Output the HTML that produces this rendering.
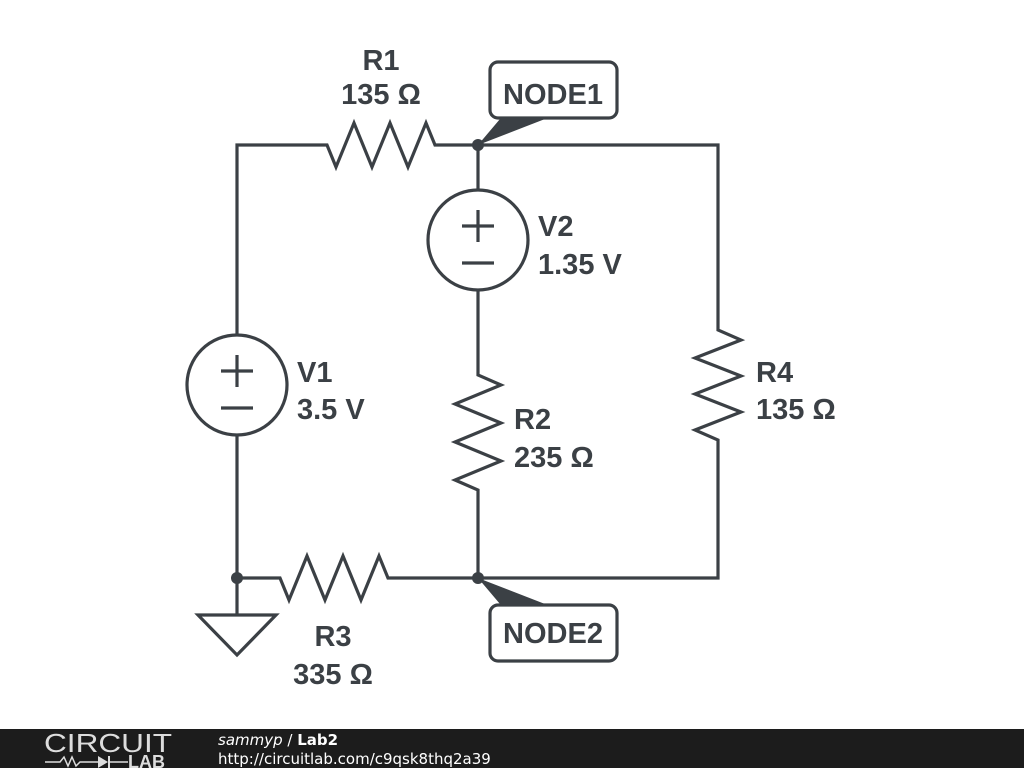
<!DOCTYPE html>
<html><head><style>
html,body{margin:0;padding:0;background:#fff;width:1024px;height:768px;overflow:hidden}
svg{display:block}
.t{font-family:"Liberation Sans",sans-serif;font-weight:bold;font-size:29px;fill:#3b4045}
</style></head><body>
<svg width="1024" height="768" viewBox="0 0 1024 768">
<g stroke="#3b4045" stroke-width="3.2" fill="none" stroke-linejoin="miter">
<polyline points="237,335 237,145 327,145 336,167 354,123 372,167 390,123 408,167 426,123 435,145 718,145 718,330 741,340 695,358 741,376 695,394 741,412 695,430 718,440 718,578 388,578 379,556 361,600 343,556 325,600 307,556 289,600 280,578 237,578 237,435"/>
<circle cx="237" cy="385" r="50"/>
<polyline points="478,145 478,190"/>
<circle cx="478" cy="240" r="50"/>
<polyline points="478,290 478,375 501,385 455,404 501,423 455,442 501,461 455,480 478,490 478,578"/>
<polyline points="237,578 237,615"/>
<polygon points="198,615 276,615 237,655"/>
<line x1="221" y1="371" x2="253" y2="371"/><line x1="237" y1="355" x2="237" y2="387"/>
<line x1="221" y1="408" x2="253" y2="408"/>
<line x1="462" y1="226" x2="494" y2="226"/><line x1="478" y1="210" x2="478" y2="242"/>
<line x1="462" y1="263" x2="494" y2="263"/>
<rect x="490" y="62" width="127" height="56" rx="8" fill="#fff"/>
<rect x="490" y="605" width="127" height="56" rx="8" fill="#fff"/>
</g>
<g fill="#3b4045">
<circle cx="478" cy="145" r="6"/><circle cx="478" cy="578" r="6"/><circle cx="237" cy="578" r="6"/>
<polygon points="478,145 500,119 545,119"/>
<polygon points="478,578 500,604 545,604"/>
</g>
<text class="t" x="381" y="70" text-anchor="middle">R1</text>
<text class="t" x="381" y="104" text-anchor="middle">135 Ω</text>
<text class="t" x="553" y="104" text-anchor="middle">NODE1</text>
<text class="t" x="553" y="643" text-anchor="middle">NODE2</text>
<text class="t" x="538" y="236">V2</text>
<text class="t" x="538" y="274">1.35 V</text>
<text class="t" x="297" y="382">V1</text>
<text class="t" x="297" y="419">3.5 V</text>
<text class="t" x="514" y="429">R2</text>
<text class="t" x="514" y="467">235 Ω</text>
<text class="t" x="756" y="382">R4</text>
<text class="t" x="756" y="419">135 Ω</text>
<text class="t" x="333" y="646" text-anchor="middle">R3</text>
<text class="t" x="333" y="684" text-anchor="middle">335 Ω</text>
<rect x="0" y="729" width="1024" height="39" fill="#1c1c1c"/>
<text x="44" y="752" font-family="Liberation Sans,sans-serif" font-size="26" fill="#ddd" font-weight="normal" textLength="128" lengthAdjust="spacingAndGlyphs">CIRCUIT</text>
<polyline points="45,762 60,762 64,757 68,766 72,757 76,766 80,762 98,762" stroke="#ddd" stroke-width="1.5" fill="none"/>
<polygon points="98,756 98,768 108,762" fill="#ddd"/><line x1="109" y1="756" x2="109" y2="768" stroke="#ddd" stroke-width="2"/>
<line x1="109" y1="762" x2="128" y2="762" stroke="#ddd" stroke-width="1.5"/>
<text x="128" y="768" font-family="Liberation Sans,sans-serif" font-size="18" font-weight="bold" fill="#ddd">LAB</text>
<text x="218" y="745" font-family="DejaVu Sans,sans-serif" font-size="15" fill="#fff"><tspan font-style="italic">sammyp</tspan> / <tspan font-weight="bold">Lab2</tspan></text>
<text x="218" y="764" font-family="DejaVu Sans,sans-serif" font-size="15" fill="#fff">http://circuitlab.com/c9qsk8thq2a39</text>
</svg>
</body></html>
